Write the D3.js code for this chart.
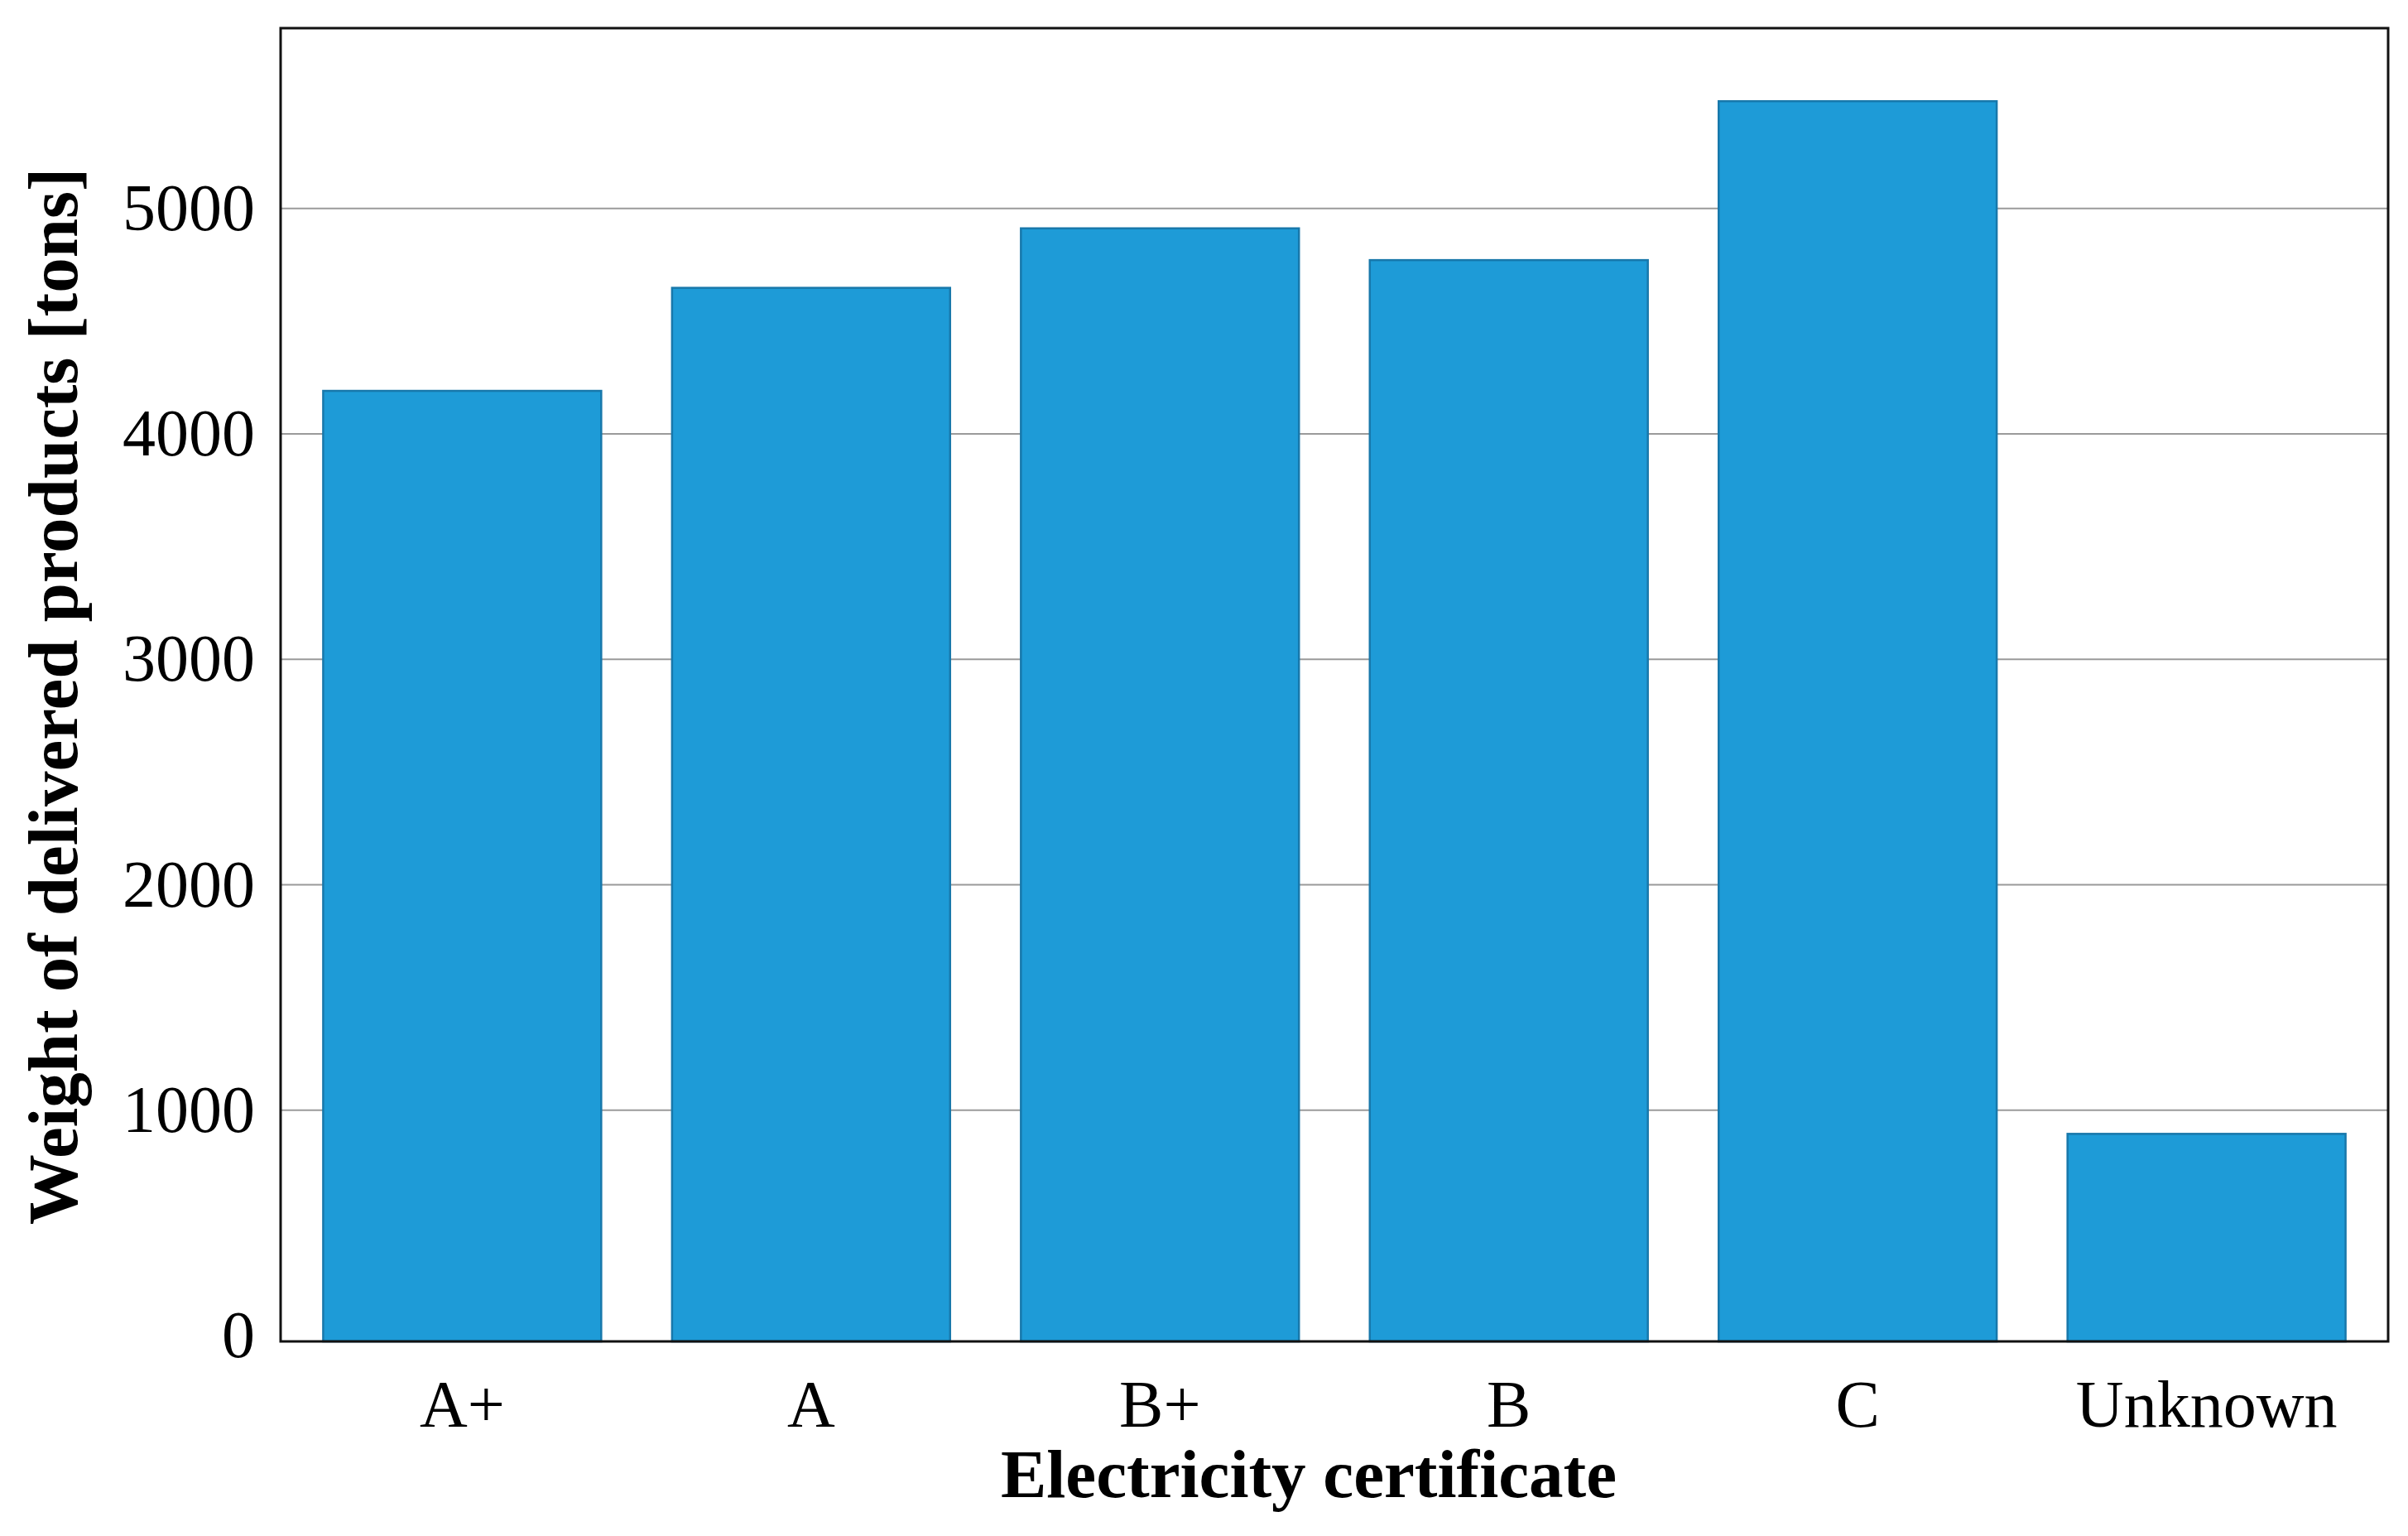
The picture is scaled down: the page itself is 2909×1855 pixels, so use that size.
<!DOCTYPE html>
<html>
<head>
<meta charset="utf-8">
<script src="https://cdn.jsdelivr.net/npm/d3@7"></script>
<style>
  html, body { margin: 0; padding: 0; background: #fff; }
  svg { display: block; }
  text { font-family: "Liberation Serif", "DejaVu Serif", serif; fill: #000; }
</style>
</head>
<body>
<svg id="chart" width="2909" height="1855"></svg>
<script>
// ---- data ----
const categories = ["A+", "A", "B+", "B", "C", "Unknown"];
const weights = [4191, 4648, 4912, 4771, 5476, 895];
const yTicks = [0, 1000, 2000, 3000, 4000, 5000];
const yMax = 5800;
const xTitle = "Electricity certificate";
const yTitle = "Weight of delivered products [tons]";

// ---- layout ----
const W = 2909, H = 1855;
const plot = { left: 339, top: 34, right: 2885, bottom: 1620 };
const zeroOffset = 7; // zero line sits slightly above the frame bottom

const svg = d3.select("#chart");

const x = d3.scaleBand()
  .domain(categories)
  .range([plot.left, plot.right])
  .paddingInner(0.203)
  .paddingOuter(0.122);

const y = d3.scaleLinear()
  .domain([0, yMax])
  .range([plot.bottom - zeroOffset, plot.top]);

// gridlines
svg.append("g")
  .selectAll("line")
  .data(yTicks.filter(d => d > 0))
  .join("line")
  .attr("x1", plot.left)
  .attr("x2", plot.right)
  .attr("y1", d => y(d))
  .attr("y2", d => y(d))
  .attr("stroke", "#9a9a9a")
  .attr("stroke-width", 2);

// bars
svg.append("g")
  .selectAll("rect")
  .data(categories.map((c, i) => ({ c, v: weights[i] })))
  .join("rect")
  .attr("x", d => x(d.c))
  .attr("width", x.bandwidth())
  .attr("y", d => y(d.v))
  .attr("height", d => plot.bottom - y(d.v))
  .attr("fill", "#1e9bd7")
  .attr("stroke", "#1878ab")
  .attr("stroke-width", 2.5);

// frame
svg.append("rect")
  .attr("x", plot.left)
  .attr("y", plot.top)
  .attr("width", plot.right - plot.left)
  .attr("height", plot.bottom - plot.top)
  .attr("fill", "none")
  .attr("stroke", "#111")
  .attr("stroke-width", 3);

// y axis labels
const yAxis = d3.axisLeft(y).tickValues(yTicks).tickSize(0).tickPadding(31).tickFormat(d3.format("d"));
const gy = svg.append("g").attr("transform", `translate(${plot.left},0)`).call(yAxis);
gy.select(".domain").remove();
gy.selectAll("text")
  .attr("font-family", "Liberation Serif, serif")
  .attr("font-size", 80)
  .attr("fill", "#000");

// x axis labels
const xAxis = d3.axisBottom(x).tickSize(0).tickPadding(0);
const gx = svg.append("g").attr("transform", `translate(0,${plot.bottom})`).call(xAxis);
gx.select(".domain").remove();
gx.selectAll("text")
  .attr("font-family", "Liberation Serif, serif")
  .attr("font-size", 80)
  .attr("fill", "#000")
  .attr("dy", null)
  .attr("y", 103);

// axis titles
svg.append("text")
  .attr("x", 1581)
  .attr("y", 1808)
  .attr("text-anchor", "middle")
  .attr("font-size", 83)
  .attr("font-weight", "bold")
  .text(xTitle);

svg.append("text")
  .attr("transform", "translate(93,841) rotate(-90)")
  .attr("text-anchor", "middle")
  .attr("font-size", 85)
  .attr("font-weight", "bold")
  .text(yTitle);
</script>
</body>
</html>
